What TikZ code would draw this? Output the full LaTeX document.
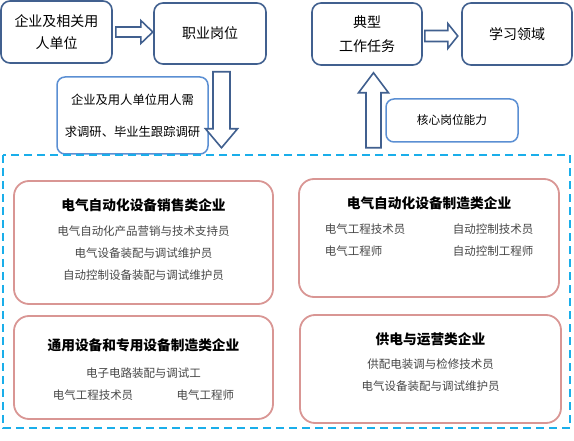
\documentclass[tikz,border=0pt]{standalone}
\usepackage{fontspec}
\setmainfont{Noto Sans CJK SC}
\usepackage{xcolor}
\usetikzlibrary{positioning,calc}
\definecolor{darkblue}{HTML}{41608F}
\definecolor{lightblue}{HTML}{5B8FD3}
\definecolor{dashcyan}{HTML}{1AAEEA}
\definecolor{softred}{HTML}{D99694}
\definecolor{itemgray}{HTML}{474747}

\begin{document}
\begin{tikzpicture}[
    x=1pt, y=-1pt,
    stagebox/.style={rectangle, draw=darkblue, fill=white, rounded corners=9pt, line width=1.6pt, align=center, font=\fontsize{14}{22}\selectfont},
    notebox/.style={rectangle, draw=lightblue, fill=white, rounded corners=8pt, line width=1.5pt, align=center},
    firmbox/.style={rectangle, draw=softred, fill=white, rounded corners=15pt, line width=1.8pt},
    firmtext/.style={anchor=north, inner sep=0pt, align=center, text=itemgray, font=\fontsize{11.5}{22}\selectfont},
    hollow/.style={draw=darkblue, fill=white, line width=1.6pt, line join=miter}
]
    \useasboundingbox (0,0) rectangle (574,441);

    % Top Row: Source, Post, Task, Field
    \node (firm) at (56.5,32) [stagebox, minimum width=111pt, minimum height=62pt] {企业及相关用\\人单位};
    \node (post) at (210,33.5) [stagebox, minimum width=112pt, minimum height=61pt] {职业岗位};
    \node (task) at (367,34) [stagebox, minimum width=110pt, minimum height=62pt, font=\fontsize{14}{24}\selectfont] {典型\\工作任务};
    \node (field) at (517,34) [stagebox, minimum width=110pt, minimum height=62pt] {学习领域};

    % Second Row: Survey and Ability
    \node (survey) at (132.5,115.5) [notebox, minimum width=151pt, minimum height=77pt, font=\fontsize{12.3}{32}\selectfont] {企业及用人单位用人需\\求调研、毕业生跟踪调研};
    \node (ability) at (452,120.5) [notebox, minimum width=132pt, minimum height=43pt, font=\fontsize{11.7}{16}\selectfont] {核心岗位能力};

    % Dashed Enterprise Frame
    \draw [dashcyan, line width=2.2pt, dash pattern=on 8pt off 5pt] (3,155) rectangle (570,428);

    % Enterprise Category Boxes
    \node (sales) at (143.5,242.5) [firmbox, minimum width=259pt, minimum height=123pt] {};
    \node (make) at (429,238) [firmbox, minimum width=260pt, minimum height=118pt] {};
    \node (general) at (143.5,367.5) [firmbox, minimum width=259pt, minimum height=103pt] {};
    \node (power) at (430.5,369) [firmbox, minimum width=261pt, minimum height=108pt] {};

    \node (salestxt) at ($(sales.north)+(0,18)$) [firmtext] {{\fontsize{13.7}{22}\selectfont\bfseries\color{black}电气自动化设备销售类企业}\\[3pt]电气自动化产品营销与技术支持员\\电气设备装配与调试维护员\\自动控制设备装配与调试维护员};
    \node (maketxt) at ($(make.north)+(0,18)$) [firmtext] {{\fontsize{13.7}{22}\selectfont\bfseries\color{black}电气自动化设备制造类企业}\\[3pt]\makebox[128pt][l]{电气工程技术员}自动控制技术员\\\makebox[128pt][l]{电气工程师}自动控制工程师};
    \node (generaltxt) at ($(general.north)+(0,23)$) [firmtext] {{\fontsize{13.7}{22}\selectfont\bfseries\color{black}通用设备和专用设备制造类企业}\\[5pt]电子电路装配与调试工\\\makebox[124pt][l]{电气工程技术员}电气工程师};
    \node (powertxt) at ($(power.north)+(0,18)$) [firmtext] {{\fontsize{13.7}{22}\selectfont\bfseries\color{black}供电与运营类企业}\\[2pt]供配电装调与检修技术员\\电气设备装配与调试维护员};

    % Hollow Block Arrows
    \draw [hollow] ($(firm.east)+(3,-5)$) -- ++(25,0) -- ++(0,-6.5) -- ++(12,11.5) -- ++(-12,11.5) -- ++(0,-6.5) -- ++(-25,0) -- cycle;
    \draw [hollow] ($(task.east)+(2,-3.5)$) -- ++(23,0) -- ++(0,-7) -- ++(10,12.5) -- ++(-10,12.5) -- ++(0,-7) -- ++(-23,0) -- cycle;
    \draw [hollow] ($(post.south)+(3,7)$) -- ++(17,0) -- ++(0,57) -- ++(7.5,0) -- ++(-16,19) -- ++(-16,-19) -- ++(7.5,0) -- cycle;
    \draw [hollow] ($(task.south)+(-1,82)$) -- ++(15,0) -- ++(0,-55) -- ++(7.5,0) -- ++(-15,-20) -- ++(-15,20) -- ++(7.5,0) -- cycle;

\end{tikzpicture}
\end{document}
